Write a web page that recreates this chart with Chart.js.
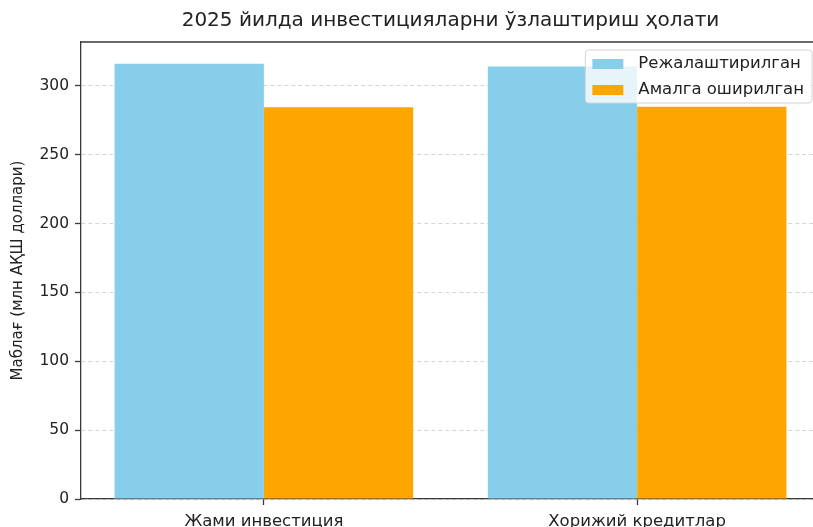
<!DOCTYPE html>
<html>
<head>
<meta charset="utf-8">
<script src="https://cdn.jsdelivr.net/npm/chart.js@4.4.0/dist/chart.umd.min.js"></script>
<style>
  html, body { margin: 0; padding: 0; background: #fff; overflow: hidden; }
  #wrap { width: 830px; height: 540px; }
</style>
</head>
<body>
<div id="wrap"><canvas id="investChart"></canvas></div>
<script>
// データ
const categories = ['Жами инвестиция', 'Хорижий кредитлар'];
const planned = [316.0, 314.0];
const actual = [284.5, 284.7];
const seriesNames = ['Режалаштирилган', 'Амалга оширилган'];
const seriesColors = ['#87CEEB', '#FFA500'];
const yTicks = [0, 50, 100, 150, 200, 250, 300];

const FONT = 'DejaVu Sans';

// 上・右の枠線
const framePlugin = {
    id: 'frame',
    afterDraw(chart) {
        const a = chart.chartArea;
        const ctx = chart.ctx;
        ctx.save();
        ctx.strokeStyle = '#3a3a3a';
        ctx.lineWidth = 1.3;
        ctx.beginPath();
        ctx.moveTo(a.left, a.top);
        ctx.lineTo(a.right, a.top);
        ctx.lineTo(a.right, a.bottom);
        ctx.stroke();
        ctx.restore();
    }
};

// 右上の凡例（matplotlib風）
const legendPlugin = {
    id: 'boxLegend',
    afterDraw(chart) {
        const a = chart.chartArea;
        const ctx = chart.ctx;
        ctx.save();
        ctx.font = '16.5px "' + FONT + '"';
        const sets = chart.data.datasets;
        let textW = 0;
        sets.forEach(ds => { textW = Math.max(textW, ctx.measureText(ds.label).width); });
        const boxW = 7 + 31 + 15 + textW + 8;
        const boxH = 53;
        const right = a.right - 8;
        const left = right - boxW;
        const top = a.top + 8;

        ctx.fillStyle = 'rgba(255,255,255,0.8)';
        ctx.strokeStyle = '#d4d4d4';
        ctx.lineWidth = 1;
        ctx.beginPath();
        ctx.roundRect(left, top, boxW, boxH, 3);
        ctx.fill();
        ctx.stroke();

        sets.forEach((ds, i) => {
            const cy = top + 14 + i * 26;
            ctx.fillStyle = ds.backgroundColor;
            ctx.fillRect(left + 7, cy - 5, 31, 10);
            ctx.fillStyle = '#222';
            ctx.textBaseline = 'middle';
            ctx.textAlign = 'left';
            ctx.fillText(ds.label, left + 7 + 31 + 15, cy);
        });
        ctx.restore();
    }
};

const ctx = document.getElementById('investChart').getContext('2d');
const investChart = new Chart(ctx, {
    type: 'bar',
    data: {
        datasets: [
            {
                label: seriesNames[0],
                data: planned.map((v, i) => ({ x: i, y: v })),
                backgroundColor: seriesColors[0],
                borderWidth: 0
            },
            {
                label: seriesNames[1],
                data: actual.map((v, i) => ({ x: i, y: v })),
                backgroundColor: seriesColors[1],
                borderWidth: 0
            }
        ]
    },
    options: {
        responsive: true,
        maintainAspectRatio: false,
        animation: false,
        devicePixelRatio: 1,
        layout: { padding: { left: 0, right: 10, top: 0, bottom: 0 } },
        datasets: {
            bar: { categoryPercentage: 0.8, barPercentage: 1.0 }
        },
        plugins: {
            legend: { display: false },
            tooltip: { enabled: false },
            title: {
                display: true,
                fullSize: false,
                text: '2025 йилда инвестицияларни ўзлаштириш ҳолати',
                color: '#222',
                font: { family: FONT, size: 20, weight: 'normal' },
                padding: { top: 9, bottom: 9 }
            }
        },
        scales: {
            x: {
                type: 'linear',
                min: -0.49,
                max: 1.49,
                offset: false,
                afterBuildTicks: (scale) => {
                    scale.ticks = categories.map((c, i) => ({ value: i }));
                },
                afterFit: (scale) => { scale.height = 41; },
                ticks: {
                    color: '#222',
                    font: { family: FONT, size: 16.5 },
                    padding: 7,
                    maxRotation: 0,
                    autoSkip: false,
                    callback: (v) => categories[v]
                },
                grid: {
                    offset: false,
                    drawOnChartArea: false,
                    drawTicks: true,
                    tickLength: 6,
                    tickColor: '#3a3a3a',
                    tickWidth: 1.3
                },
                border: { display: true, color: '#3a3a3a', width: 1.3 }
            },
            y: {
                min: 0,
                max: 331.8,
                afterBuildTicks: (scale) => {
                    scale.ticks = yTicks.map(v => ({ value: v }));
                },
                afterFit: (scale) => { scale.width = 81; },
                ticks: {
                    color: '#222',
                    font: { family: FONT, size: 15.5 },
                    padding: 6
                },
                grid: {
                    color: 'rgba(170,170,170,0.5)',
                    lineWidth: 1,
                    drawTicks: true,
                    tickLength: 6,
                    tickColor: '#3a3a3a',
                    tickWidth: 1.3
                },
                border: { display: true, color: '#3a3a3a', width: 1.3, dash: [4, 3] },
                title: {
                    display: true,
                    text: 'Маблағ (млн АҚШ доллари)',
                    color: '#222',
                    font: { family: FONT, size: 15 },
                    padding: { top: 9, bottom: 0 }
                }
            }
        }
    },
    plugins: [framePlugin, legendPlugin]
});
</script>
</body>
</html>
